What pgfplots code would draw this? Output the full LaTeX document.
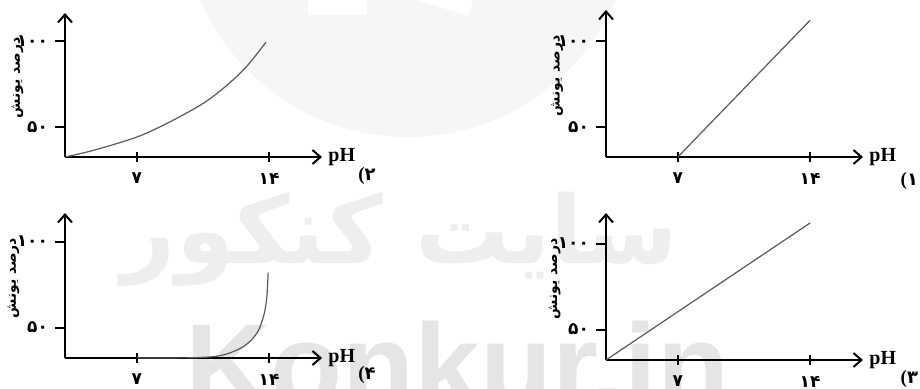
\documentclass[border=0pt]{standalone}
\usepackage{fontspec}
\usepackage{pgfplots}
\pgfplotsset{compat=1.18}
\usetikzlibrary{arrows.meta}
\setmainfont{Liberation Serif}
\newfontfamily\pd[Script=Arabic]{DejaVu Sans}
\newfontfamily\wm{Liberation Sans}
\TeXXeTstate=1

% one small sketch: pH on x, ionisation percent on y
\pgfplotsset{
  panel/.style={
    scale only axis,
    width=128.5pt,
    xmin=3.2, xmax=16.8, ymin=32.3,
    axis lines=left,
    axis line style={line width=1pt,
      -{Straight Barb[length=4pt,width=7pt,line width=1pt]}},
    clip=false,
    xtick={7,14}, xticklabels={۷,۱۴},
    ytick={50,100}, yticklabels={۵۰,۱۰۰},
    tick align=outside,
    major tick length=5pt,
    every tick/.style={black, line width=1pt},
    x tick style={yshift=2.5pt},
    tick label style={font=\pd\bfseries\fontsize{8.5}{9}\selectfont},
    xticklabel style={yshift=0.5pt},
    xlabel={\textbf{pH}},
    xlabel style={at={(axis description cs:1,0)}, anchor=west,
      inner sep=0pt, xshift=3pt, font=\fontsize{10}{11}\selectfont},
  },
  curve/.style={gray!70!black, line width=0.6pt, no marks},
}
% y title, set by hand left of the tick labels
\newcommand{\ytitle}[1]{\node[rotate=90, inner sep=0pt,
  font=\pd\bfseries\fontsize{7}{8}\selectfont] at (rel axis cs:#1,0.55) {\beginR درصد یونش\endR};}
\newcommand{\num}[1]{{\bfseries\fontsize{9.5}{10}\selectfont(}{\pd\bfseries\fontsize{9}{10}\selectfont #1}}

\begin{document}
\begin{tikzpicture}[x=0.5pt,y=-0.5pt]
\useasboundingbox (0,0) rectangle (920,389);

% faint site watermark behind the sketches
\fill[gray!7] (204pt,44.5pt) circle[radius=113pt];
\fill[white] (308,0) rectangle (367,15);
\fill[white] (417,0) -- (473,0) -- (468,16) -- cycle;
\node[gray!13, font=\pd\bfseries\fontsize{47}{47}\selectfont, anchor=base] at (400,264) {\beginR سایت کنکور\endR};
\node[gray!20, font=\wm\bfseries\fontsize{59}{59}\selectfont, anchor=base west, inner sep=0pt] at (185,406) {Konkur.in};

% (2) top left
\begin{axis}[panel, at={(32.5pt,-78.5pt)}, anchor=south west,
    height=72pt, ymax=116.2]
  \addplot[curve, smooth] coordinates {
    (3.21,32.3) (4.71,36.2) (7,43.9) (8.76,52.8) (10.52,63.6)
    (11.75,73.9) (12.81,85) (13.83,99.1)
  };
  \ytitle{-0.185}
  \node[anchor=west, inner sep=0pt] at (rel axis cs:1.14,-0.13) {\num{۲}};
\end{axis}

% (1) top right
\begin{axis}[panel, at={(303pt,-78.5pt)}, anchor=south west,
    height=73.5pt, ymax=118]
  \addplot[curve] coordinates {(7,32.3) (14,112)};
  \ytitle{-0.19}
  \node[anchor=west, inner sep=0pt] at (rel axis cs:1.145,-0.16) {\num{۱}};
\end{axis}

% (4) bottom left
\begin{axis}[panel, at={(32.5pt,-179pt)}, anchor=south west,
    height=72.5pt, ymax=116.6]
  \addplot[curve, smooth, tension=0.5] coordinates {
    (7,32.3) (9,32.35) (10.17,32.5) (11.22,33.3) (11.91,35.2) (12.61,38.7)
    (13.13,43.5) (13.48,49.3) (13.74,58) (13.88,67.6) (13.95,82)
  };
  \ytitle{-0.2}
  \node[anchor=west, inner sep=0pt] at (rel axis cs:1.14,-0.12) {\num{۴}};
\end{axis}

% (3) bottom right
\begin{axis}[panel, at={(303pt,-180pt)}, anchor=south west,
    height=73.5pt, ymax=117.8]
  \addplot[curve] coordinates {(3.2,32.3) (14,112)};
  \ytitle{-0.2}
  \node[anchor=west, inner sep=0pt] at (rel axis cs:1.145,-0.13) {\num{۳}};
\end{axis}
\end{tikzpicture}
\end{document}
